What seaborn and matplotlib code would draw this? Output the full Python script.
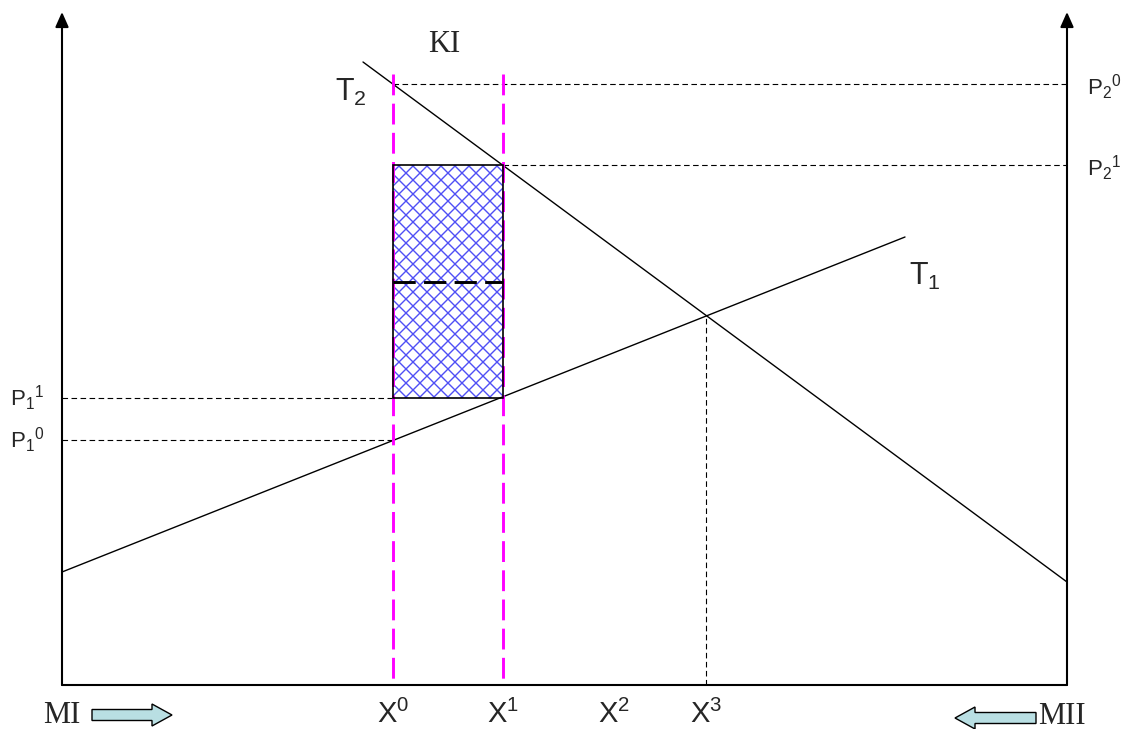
import matplotlib
matplotlib.use("Agg")
import numpy as np
import matplotlib.pyplot as plt
import matplotlib.patches as mpatches
import seaborn as sns

# Schematic values (x: quantity, y: price)
t1_x = [0, 843]
t1_y = [113, 448]
t2_x = [301, 1005]
t2_y = [623, 103]

x_marks = [331, 441, 552, 644]
x_labels = ['X$^0$', 'X$^1$', 'X$^2$', 'X$^3$']

p1_levels = [245, 287]      # P1^0, P1^1
p2_levels = [601, 520]      # P2^0, P2^1
p1_labels = ['P$_1$$^0$', 'P$_1$$^1$']
p2_labels = ['P$_2$$^0$', 'P$_2$$^1$']

quota_mid = 403             # dashed line inside the hatched box
equilibrium = (644, 369)
x_max, y_max = 1005, 673

sns.set_style("white")
plt.rcParams['font.family'] = ['Liberation Sans', 'DejaVu Sans']
plt.rcParams['mathtext.fontset'] = 'custom'
plt.rcParams['mathtext.rm'] = 'Liberation Sans'
plt.rcParams['mathtext.it'] = 'Liberation Sans'
plt.rcParams['mathtext.default'] = 'rm'
plt.rcParams['lines.scale_dashes'] = False

fig = plt.figure(figsize=(11.26, 7.29), dpi=100)
ax = fig.add_axes([62 / 1126, 44 / 729, 1005 / 1126, 673 / 729])
ax.set_xlim(0, x_max)
ax.set_ylim(0, y_max)
ax.axis('off')

# hatched box between X0 and X1, P1^1 and P2^1
bx0, bx1 = x_marks[0], x_marks[1]
by0, by1 = p1_levels[1], p2_levels[1]
box = mpatches.Rectangle((bx0, by0), bx1 - bx0, by1 - by0, fill=False,
                         edgecolor='black', lw=1.2, zorder=6)
ax.add_patch(box)
# cross-hatch drawn as clipped diagonals (about 14 px pattern)
step = 14
for c in np.arange(by0 - bx1, by1 - bx0 + step, step):
    ln, = ax.plot([bx0, bx1], [bx0 + c, bx1 + c], color='#4f4ff5', lw=1.0, zorder=2)
    ln.set_clip_path(box)
for c in np.arange(by0 + bx0, by1 + bx1 + step, step):
    ln, = ax.plot([bx0, bx1], [c - bx0, c - bx1], color='#4f4ff5', lw=1.0, zorder=2)
    ln.set_clip_path(box)
ax.plot([bx0, bx1], [quota_mid, quota_mid], color='black', lw=2.1,
        linestyle=(0, (16, 6)), zorder=6)

# supply / demand lines
sns.lineplot(x=t1_x, y=t1_y, ax=ax, color='black', lw=1, zorder=4)
sns.lineplot(x=t2_x, y=t2_y, ax=ax, color='black', lw=1, zorder=4)

# thin dashed guide lines
guide = dict(color='black', lw=0.8, linestyle=(0, (4, 2.5)), zorder=2)
ax.plot([0, x_marks[0]], [p1_levels[0]] * 2, **guide)
ax.plot([0, x_marks[0]], [p1_levels[1]] * 2, **guide)
ax.plot([x_marks[0], x_max], [p2_levels[0]] * 2, **guide)
ax.plot([x_marks[1], x_max], [p2_levels[1]] * 2, **guide)
ax.plot([equilibrium[0]] * 2, [0, equilibrium[1]], **guide)

# magenta quota lines (dash pattern starts at the top)
for xm in x_marks[:2]:
    ax.plot([xm, xm], [611, 0], color='#ff00ff', lw=2.1,
            linestyle=(0, (15, 6)), zorder=5)

# axes frame with arrows
ax.plot([0, x_max], [0, 0], color='black', lw=1.5, zorder=7, clip_on=False)
for xa in [0, x_max]:
    ax.annotate('', xy=(xa, y_max), xytext=(xa, 0),
                arrowprops=dict(arrowstyle='-|>,head_length=0.45,head_width=0.2',
                                mutation_scale=20, color='black', lw=1.5,
                                shrinkA=0, shrinkB=0),
                annotation_clip=False, zorder=7)

# labels
for xm, lab in zip(x_marks, x_labels):
    ax.text(xm, -38, lab, fontsize=21, ha='center', va='baseline', clip_on=False)
for yl, lab in zip(p1_levels, p1_labels):
    ax.text(-52, yl - 8, lab, fontsize=16, ha='left', va='baseline', clip_on=False)
for yl, lab in zip(p2_levels, p2_labels):
    ax.text(1025, yl - 11, lab, fontsize=16, ha='left', va='baseline', clip_on=False)

ax.text(273, 584, 'T$_2$', fontsize=22, ha='left', va='baseline')
ax.text(847, 400, 'T$_1$', fontsize=22, ha='left', va='baseline')
ax.text(382, 633, 'KI', fontsize=22, family='Liberation Serif', ha='center', va='baseline')

ax.text(-19, -38, 'MI', fontsize=22, family='Liberation Serif', ha='left',
        va='baseline', clip_on=False)
ax.text(976, -39, 'MII', fontsize=22, family='Liberation Serif', ha='left',
        va='baseline', clip_on=False)

arrow_style = dict(width=11, head_width=22, head_length=20, length_includes_head=True,
                   facecolor='#b9dfe3', edgecolor='black', lw=1, clip_on=False)
ax.add_patch(mpatches.FancyArrow(30, -30, 80, 0, **arrow_style))
ax.add_patch(mpatches.FancyArrow(974, -33, -81, 0, **arrow_style))

fig.savefig('out.png', dpi=100)
